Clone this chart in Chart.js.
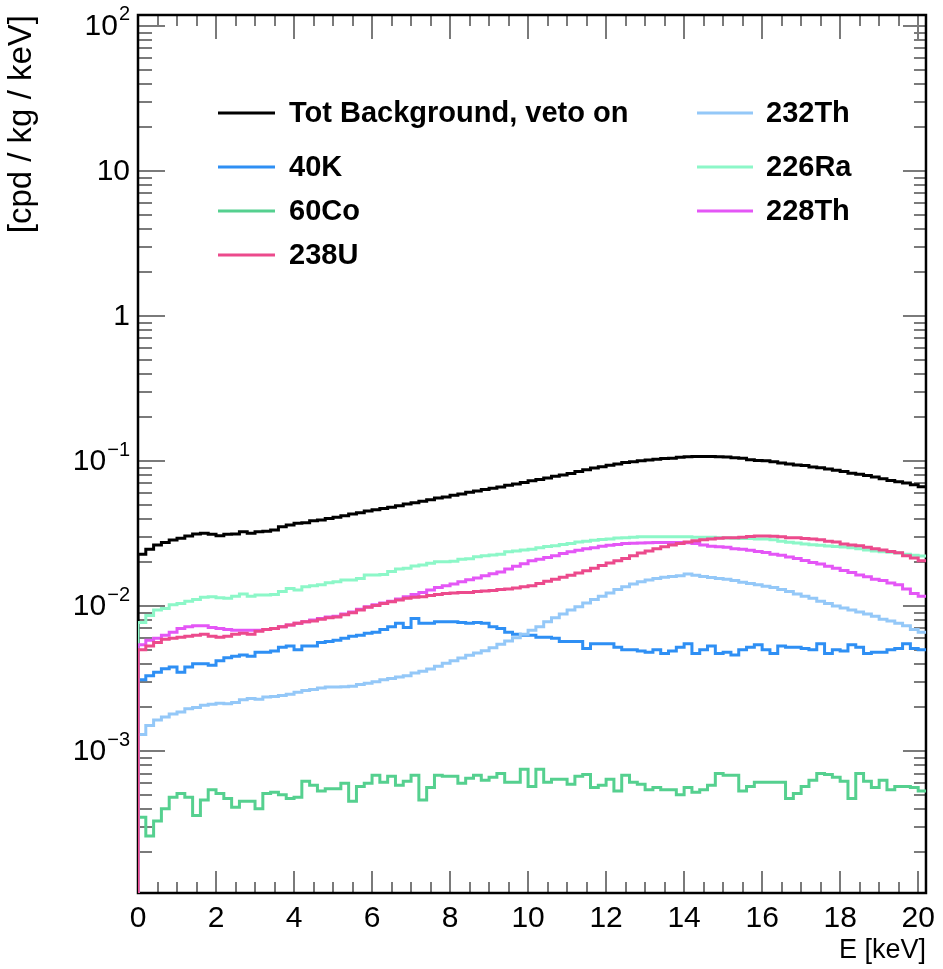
<!DOCTYPE html>
<html><head><meta charset="utf-8">
<script src="https://cdn.jsdelivr.net/npm/chart.js@4.4.1/dist/chart.umd.min.js"></script>
<style>html,body{margin:0;padding:0;background:#fff;}canvas{display:block;}</style>
</head><body>
<div style="width:943px;height:969px;position:relative"><canvas id="c" width="943" height="969"></canvas></div>
<script>
// ---- data (cpd / kg / keV), bins of 0.2 keV starting at 0 keV ----
const binWidth = 0.2;
const binLowEdges = Array.from({length: 101}, (_, i) => Math.round(i * 2) / 10);

const seriesNames = ['Tot Background, veto on', '40K', '60Co', '238U', '232Th', '226Ra', '228Th'];

const totBackground = [
 0.0228,0.0246,0.0264,0.0274,0.0285,0.0293,0.0304,0.0314,0.0317,0.0312,0.0305,0.0312,0.0314,0.0325,0.0317,0.0325,0.0328,0.0334,0.0352,0.0362,0.0372,0.0375,0.0388,0.0392,0.0402,
 0.0410,0.0420,0.0432,0.0440,0.0452,0.0462,0.0470,0.0480,0.0492,0.0505,0.0516,0.0528,0.0540,0.0555,0.0565,0.0580,0.0592,0.0608,0.0620,0.0635,0.0650,0.0662,0.0680,0.0695,0.0712,
 0.0730,0.0745,0.0765,0.0785,0.0800,0.0820,0.0845,0.0870,0.0895,0.0912,0.0935,0.0955,0.0975,0.0990,0.1005,0.1015,0.1030,0.1040,0.1045,0.1060,0.1070,0.1075,0.1075,0.1075,0.1070,
 0.1065,0.1055,0.1045,0.1020,0.1010,0.1005,0.0990,0.0970,0.0955,0.0940,0.0930,0.0910,0.0900,0.0880,0.0865,0.0845,0.0825,0.0810,0.0795,0.0775,0.0755,0.0735,0.0720,0.0705,0.0685,0.0665
];
const k40 = [
 0.0031,0.0033,0.0035,0.0037,0.0038,0.0035,0.0038,0.0040,0.0040,0.0039,0.0042,0.0044,0.0045,0.0046,0.0045,0.0048,0.0048,0.0049,0.0052,0.0053,0.0050,0.0053,0.0053,0.0056,
 0.0057,0.0058,0.0060,0.0062,0.0063,0.0065,0.0066,0.0069,0.0072,0.0076,0.0071,0.0082,0.0076,0.0076,0.0078,0.0078,0.0078,0.0077,0.0076,0.0077,0.0076,0.0072,0.0070,0.0066,0.0064,0.0063,
 0.0063,0.0061,0.0061,0.0060,0.0057,0.0057,0.0057,0.0051,0.0055,0.0055,0.0055,0.0052,0.0050,0.0050,0.0049,0.0048,0.0050,0.0047,0.0049,0.0052,0.0055,0.0047,0.0050,0.0053,0.0047,
 0.0048,0.0046,0.0050,0.0052,0.0054,0.0050,0.0047,0.0053,0.0052,0.0052,0.0051,0.0050,0.0055,0.0047,0.0050,0.0049,0.0054,0.0052,0.0047,0.0048,0.0048,0.0050,0.0051,0.0055,0.0051,0.0050
];
const co60 = [
 0.00035,0.00026,0.00033,0.00040,0.00048,0.00051,0.00048,0.00036,0.00046,0.00054,0.00051,0.00047,0.00041,0.00045,0.00045,0.00040,0.00051,0.00052,0.00050,0.00047,0.00048,0.00062,0.00058,0.00053,0.00055,
 0.00055,0.00060,0.00045,0.00057,0.00060,0.00068,0.00061,0.00067,0.00058,0.00062,0.00068,0.00046,0.00056,0.00068,0.00067,0.00067,0.00060,0.00065,0.00068,0.00063,0.00066,0.00070,0.00061,0.00061,0.00075,
 0.00057,0.00075,0.00061,0.00064,0.00064,0.00059,0.00067,0.00069,0.00056,0.00058,0.00064,0.00053,0.00068,0.00061,0.00059,0.00054,0.00056,0.00054,0.00054,0.00050,0.00056,0.00052,0.00054,0.00058,0.00070,
 0.00068,0.00068,0.00053,0.00057,0.00061,0.00061,0.00061,0.00061,0.00047,0.00051,0.00057,0.00063,0.00070,0.00069,0.00066,0.00062,0.00047,0.00070,0.00062,0.00056,0.00063,0.00054,0.00057,0.00057,0.00056,0.00053
];
const u238 = [
 0.0050,0.0053,0.0056,0.0059,0.0060,0.0061,0.0062,0.0063,0.0064,0.0062,0.0061,0.0062,0.0064,0.0065,0.0064,0.0067,0.0069,0.0070,0.0072,0.0074,0.0076,0.0078,0.0079,0.0081,0.0083,
 0.0084,0.0087,0.0090,0.0094,0.0098,0.0101,0.0104,0.0107,0.0110,0.0113,0.0115,0.0116,0.0118,0.0120,0.0122,0.0123,0.0124,0.0124,0.0126,0.0127,0.0128,0.0130,0.0131,0.0133,0.0136,
 0.0138,0.0143,0.0148,0.0153,0.0158,0.0163,0.0169,0.0175,0.0182,0.0190,0.0198,0.0205,0.0213,0.0222,0.0232,0.0240,0.0248,0.0256,0.0264,0.0270,0.0276,0.0282,0.0286,0.0290,0.0293,
 0.0296,0.0296,0.0298,0.0302,0.0304,0.0304,0.0303,0.0300,0.0296,0.0296,0.0292,0.0290,0.0287,0.0280,0.0276,0.0268,0.0264,0.0260,0.0254,0.0248,0.0243,0.0238,0.0233,0.0222,0.0214,0.0205
];
const th232 = [
 0.00130,0.00150,0.00164,0.00172,0.00180,0.00186,0.00196,0.00200,0.00207,0.00210,0.00214,0.00212,0.00216,0.00226,0.00230,0.00228,0.00236,0.00238,0.00242,0.00246,0.00254,0.00262,0.00266,0.00272,0.00276,
 0.00276,0.00278,0.00280,0.00288,0.00294,0.00300,0.00310,0.00316,0.00324,0.00330,0.00345,0.00355,0.00368,0.00385,0.00403,0.00420,0.00438,0.00458,0.00475,0.00492,0.00515,0.00545,0.00575,0.00605,0.00640,
 0.0068,0.0072,0.0078,0.0083,0.0088,0.0094,0.0099,0.0105,0.0111,0.0117,0.0123,0.0130,0.0136,0.0142,0.0147,0.0151,0.0155,0.0158,0.0160,0.0162,0.0166,0.0163,0.0160,0.0157,0.0155,
 0.0153,0.0150,0.0146,0.0143,0.0140,0.0137,0.0134,0.0130,0.0126,0.0121,0.0117,0.0113,0.0108,0.0104,0.0100,0.0097,0.0094,0.0091,0.0088,0.0085,0.0081,0.0079,0.0076,0.0073,0.0069,0.0066
];
const ra226 = [
 0.0077,0.0086,0.0094,0.0096,0.0102,0.0104,0.0108,0.0111,0.0115,0.0116,0.0114,0.0113,0.0117,0.0121,0.0117,0.0119,0.0119,0.0120,0.0126,0.0132,0.0129,0.0136,0.0138,0.0140,0.0145,
 0.0147,0.0151,0.0151,0.0155,0.0164,0.0164,0.0165,0.0173,0.0180,0.0182,0.0189,0.0192,0.0197,0.0202,0.0202,0.0204,0.0210,0.0212,0.0219,0.0222,0.0225,0.0228,0.0237,0.0240,0.0243,
 0.0246,0.0252,0.0257,0.0260,0.0266,0.0270,0.0276,0.0280,0.0284,0.0288,0.0290,0.0294,0.0296,0.0298,0.0300,0.0300,0.0301,0.0301,0.0301,0.0300,0.0300,0.0298,0.0298,0.0298,0.0296,
 0.0294,0.0293,0.0292,0.0292,0.0290,0.0290,0.0286,0.0280,0.0275,0.0272,0.0268,0.0265,0.0262,0.0259,0.0257,0.0255,0.0252,0.0248,0.0243,0.0240,0.0237,0.0235,0.0232,0.0228,0.0224,0.0221
];
const th228 = [
 0.0054,0.0058,0.0060,0.0063,0.0066,0.0070,0.0072,0.0073,0.0073,0.0071,0.0070,0.0069,0.0068,0.0068,0.0068,0.0068,0.0069,0.0070,0.0072,0.0074,0.0076,0.0078,0.0080,0.0082,0.0084,
 0.0085,0.0088,0.0091,0.0095,0.0099,0.0102,0.0105,0.0108,0.0112,0.0116,0.0120,0.0124,0.0129,0.0134,0.0138,0.0142,0.0147,0.0152,0.0156,0.0162,0.0167,0.0172,0.0180,0.0188,0.0196,
 0.0205,0.0210,0.0216,0.0222,0.0230,0.0237,0.0242,0.0248,0.0252,0.0258,0.0262,0.0266,0.0270,0.0271,0.0272,0.0273,0.0274,0.0274,0.0274,0.0274,0.0273,0.0270,0.0264,0.0258,0.0256,
 0.0254,0.0248,0.0246,0.0242,0.0238,0.0234,0.0228,0.0224,0.0218,0.0213,0.0206,0.0200,0.0195,0.0188,0.0182,0.0176,0.0170,0.0164,0.0159,0.0153,0.0150,0.0144,0.0140,0.0131,0.0122,0.0117
];

const seriesValues = [totBackground, k40, co60, u238, th232, ra226, th228];
const seriesColors = ['#000000', '#2e8ff4', '#55d08f', '#ec4a8c', '#94c8f8', '#8cf7c8', '#e456f6'];
const drawOrder = [6, 5, 4, 0, 3, 2, 1]; // lower = drawn later (on top)

const xTickValues = [0, 2, 4, 6, 8, 10, 12, 14, 16, 18, 20];
const xTickLabels = ['0', '2', '4', '6', '8', '10', '12', '14', '16', '18', '20'];
const yTickValues = [1e-3, 1e-2, 1e-1, 1, 10, 100];
const yTickBase = ['10', '10', '10', '1', '10', '10'];
const yTickExp = ['\u22123', '\u22122', '\u22121', '', '', '2'];
const xTitle = 'E [keV]';
const yTitle = '[cpd / kg / keV]';

const X_MIN = 0, X_MAX = 20.2, Y_MIN = 1.05e-4, Y_MAX = 119;
const BASELINE = 1e-7;
const FONT = '"Liberation Sans", Arial, Helvetica, sans-serif';
const TICK_FONT_SIZE = 30, EXP_FONT_SIZE = 20;

function toHistPoints(vals) {
  const pts = [{x: binLowEdges[0], y: BASELINE}];
  vals.forEach((v, i) => pts.push({x: binLowEdges[i], y: v}));
  pts.push({x: binLowEdges[vals.length - 1] + binWidth, y: vals[vals.length - 1]});
  return pts;
}

const framePlugin = {
  id: 'rootFrame',
  beforeDatasetsDraw(chart) {
    const {ctx, chartArea: a, scales: {x, y}} = chart;
    ctx.save();
    // ticks inside the frame
    ctx.strokeStyle = '#7a7a7a';
    ctx.lineWidth = 2;
    ctx.beginPath();
    for (let v = X_MIN; v <= X_MAX + 1e-9; v += 0.5) {
      const px = Math.round(x.getPixelForValue(v));
      const major = Math.abs(v / 2 - Math.round(v / 2)) < 1e-6;
      ctx.moveTo(px, a.bottom); ctx.lineTo(px, a.bottom - (major ? 22 : 11));
      ctx.moveTo(px, a.top); ctx.lineTo(px, a.top + (major ? 24 : 11));
    }
    for (let e = -4; e <= 2; e++) {
      for (let m = 1; m <= 9; m++) {
        const v = m * Math.pow(10, e);
        if (v < Y_MIN || v > Y_MAX) continue;
        const py = Math.round(y.getPixelForValue(v));
        ctx.moveTo(a.left, py); ctx.lineTo(a.left + (m === 1 ? 27 : 14), py);
        ctx.moveTo(a.right, py); ctx.lineTo(a.right - (m === 1 ? 23 : 12), py);
      }
    }
    ctx.stroke();
    // frame
    ctx.strokeStyle = '#000';
    ctx.lineWidth = 2.5;
    ctx.strokeRect(a.left, a.top, a.right - a.left, a.bottom - a.top);
    // y tick labels with raised exponents
    ctx.fillStyle = '#000';
    ctx.textBaseline = 'middle';
    ctx.textAlign = 'right';
    const rightX = a.left - 8;
    yTickValues.forEach((v, i) => {
      const py = y.getPixelForValue(v);
      let xr = rightX;
      if (yTickExp[i]) {
        ctx.font = EXP_FONT_SIZE + 'px ' + FONT;
        ctx.fillText(yTickExp[i], xr, py - 11);
        xr -= ctx.measureText(yTickExp[i]).width + 1;
      }
      ctx.font = TICK_FONT_SIZE + 'px ' + FONT;
      ctx.fillText(yTickBase[i], xr, py + 1);
    });
    ctx.restore();
  },
  afterDraw(chart) {
    const {ctx} = chart;
    const cols = [
      {items: [0, 1, 2, 3], lineX0: 218, lineX1: 275, textX: 289},
      {items: [4, 5, 6], lineX0: 697, lineX1: 753, textX: 766}
    ];
    const rowY = [113, 167, 211, 255];
    ctx.save();
    ctx.font = 'bold 29px ' + FONT;
    ctx.textBaseline = 'middle';
    ctx.textAlign = 'left';
    cols.forEach(col => {
      col.items.forEach((di, r) => {
        const ds = chart.data.datasets[di];
        const yy = rowY[r];
        ctx.strokeStyle = ds.borderColor;
        ctx.lineWidth = 3;
        ctx.beginPath(); ctx.moveTo(col.lineX0, yy); ctx.lineTo(col.lineX1, yy); ctx.stroke();
        ctx.fillStyle = '#000';
        ctx.fillText(ds.label, col.textX, yy + 1);
      });
    });
    ctx.restore();
  }
};

new Chart(document.getElementById('c'), {
  type: 'line',
  data: {
    datasets: seriesNames.map((name, i) => ({
      label: name,
      data: toHistPoints(seriesValues[i]),
      borderColor: seriesColors[i],
      backgroundColor: seriesColors[i],
      borderWidth: 3,
      stepped: true,
      pointRadius: 0,
      fill: false,
      order: drawOrder[i]
    }))
  },
  options: {
    responsive: false,
    animation: false,
    devicePixelRatio: 1,
    layout: {padding: {top: 15, right: 14, left: 0, bottom: 0}},
    plugins: {legend: {display: false}, tooltip: {enabled: false}},
    scales: {
      x: {
        type: 'linear', min: X_MIN, max: X_MAX,
        grid: {display: false, drawTicks: false},
        border: {display: false},
        afterBuildTicks: s => { s.ticks = xTickValues.map(v => ({value: v})); },
        afterFit: s => { s.height = 76; },
        ticks: {
          autoSkip: false, maxRotation: 0, color: '#000', padding: 8,
          font: {family: FONT, size: TICK_FONT_SIZE},
          callback: (v) => { const i = xTickValues.indexOf(v); return i >= 0 ? xTickLabels[i] : ''; }
        },
        title: {display: true, text: xTitle, align: 'end', color: '#000', font: {family: FONT, size: 27}, padding: {top: 0, bottom: 2}}
      },
      y: {
        type: 'logarithmic', min: Y_MIN, max: Y_MAX,
        grid: {display: false, drawTicks: false},
        border: {display: false},
        afterBuildTicks: s => { s.ticks = yTickValues.map(v => ({value: v})); },
        afterFit: s => { s.width = 138; },
        ticks: {display: false},
        title: {display: true, text: yTitle, align: 'end', color: '#000', font: {family: FONT, size: 33}, padding: {top: 2, bottom: 0}}
      }
    }
  },
  plugins: [framePlugin]
});
</script>
</body></html>
